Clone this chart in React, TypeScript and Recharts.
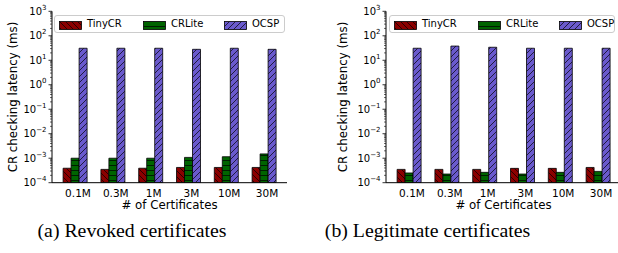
import { BarChart, Bar, XAxis, YAxis, Legend } from 'recharts';

const categories = ['0.1M', '0.3M', '1M', '3M', '10M', '30M'];

// (a) revoked certificates, latency in ms
const revokedTinyCR = [3.9e-4, 3.5e-4, 3.9e-4, 4.2e-4, 4.2e-4, 4.2e-4];
const revokedCRLite = [1.0e-3, 1.0e-3, 1.0e-3, 1.08e-3, 1.15e-3, 1.5e-3];
const revokedOCSP = [31, 31, 31, 28, 31, 28];

// (b) legitimate certificates
const legitTinyCR = [3.5e-4, 3.5e-4, 3.5e-4, 3.85e-4, 3.85e-4, 4.2e-4];
const legitCRLite = [2.5e-4, 2.26e-4, 2.65e-4, 2.26e-4, 2.65e-4, 2.9e-4];
const legitOCSP = [31, 38, 34, 31, 31, 31];

const majorTicks = [1e-4, 1e-3, 1e-2, 1e-1, 1e0, 1e1, 1e2, 1e3];
const minorSteps = [2, 3, 4, 5, 6, 7, 8, 9];
const allTicks = majorTicks.concat(
  majorTicks.slice(0, -1).flatMap(m => minorSteps.map(s => m * s))
);

const SANS = '"DejaVu Sans", sans-serif';

const toRows = (a: number[], b: number[], c: number[]) =>
  categories.map((cat, i) => ({ cat, tiny: a[i], crlite: b[i], ocsp: c[i] }));

const YTick = (props: any) => {
  const { x, y, payload } = props;
  const lg = Math.log10(payload.value);
  const major = Math.abs(lg - Math.round(lg)) < 1e-6;
  const e = Math.round(lg);
  return (
    <g>
      <line x1={x - (major ? 3.5 : 2)} x2={x} y1={y} y2={y} stroke="#000" strokeWidth={major ? 0.8 : 0.6} />
      {major && (
        <text x={x - 5.5} y={y + 3.5} textAnchor="end" fontSize={10} fontFamily={SANS} fill="#000">
          10
          <tspan dy={-5} fontSize={7}>{e < 0 ? `\u2212${-e}` : e}</tspan>
        </text>
      )}
    </g>
  );
};

const XTick = (props: any) => {
  const { x, y, payload } = props;
  return (
    <text x={x + 3} y={y} dy="0.78em" textAnchor="middle" fontSize={10.5} fontFamily={SANS} fill="#000">
      {payload.value}
    </text>
  );
};

const Hatches = ({ id }: { id: string }) => (
  <defs>
    <pattern id={`${id}-tiny`} patternUnits="userSpaceOnUse" width={6} height={6}>
      <rect width={6} height={6} fill="#8b0000" />
      <path d="M0,0 L6,6 M-1,5 L1,7 M5,-1 L7,1" stroke="#000" strokeWidth={0.7} />
    </pattern>
    <pattern id={`${id}-crlite`} patternUnits="userSpaceOnUse" width={10} height={5}>
      <rect width={10} height={5} fill="#006400" />
      <path d="M0,0.5 H10" stroke="#000" strokeWidth={0.7} />
    </pattern>
    <pattern id={`${id}-ocsp`} patternUnits="userSpaceOnUse" width={6} height={6}>
      <rect width={6} height={6} fill="#6a5acd" />
      <path d="M0,6 L6,0 M-1,1 L1,-1 M5,7 L7,5" stroke="#000" strokeWidth={0.7} />
    </pattern>
  </defs>
);

const legendItems = [
  { key: 'tiny', name: 'TinyCR', at: 4 },
  { key: 'crlite', name: 'CRLite', at: 88 },
  { key: 'ocsp', name: 'OCSP', at: 169 },
];

const makeLegend = (id: string, width: number) => () => (
  <div
    style={{
      position: 'relative', width, height: 18, boxSizing: 'border-box',
      border: '1px solid #cccccc', borderRadius: 3, background: 'rgba(255,255,255,0.85)',
      fontFamily: SANS, fontSize: 10, color: '#000',
    }}
  >
    {legendItems.map(it => (
      <div key={it.key}>
        <svg width={23} height={9} style={{ position: 'absolute', left: it.at, top: 4.5 }}>
          <rect x={0.5} y={0.5} width={22} height={8} fill={`url(#${id}-${it.key})`} stroke="#000" strokeWidth={0.8} />
        </svg>
        <span style={{ position: 'absolute', left: it.at + 28, top: 2, lineHeight: '12px' }}>{it.name}</span>
      </div>
    ))}
  </div>
);

type PanelProps = {
  id: string;
  rows: any[];
  left: number;
  width: number;
  marginLeft: number;
  marginRight: number;
  legendLeft: number;
  legendWidth: number;
  yLabelX: number;
  xLabelX: number;
};

const Panel = (p: PanelProps) => (
  <div style={{ position: 'absolute', left: p.left, top: 0 }}>
    <BarChart
      width={p.width}
      height={215}
      data={p.rows}
      margin={{ top: 11.3, left: p.marginLeft, right: p.marginRight, bottom: 2.3 }}
      barGap={0}
      barSize={8}
    >
      <Hatches id={p.id} />
      <XAxis
        dataKey="cat"
        height={30}
        padding={{ left: 4.1, right: 4.1 }}
        tickLine={false}
        tickSize={0}
        tickMargin={6}
        interval={0}
        tick={<XTick />}
        axisLine={{ stroke: '#000', strokeWidth: 1 }}
        label={{
          content: () => (
            <text x={p.xLabelX} y={209} textAnchor="middle" fontSize={11.8} fontFamily={SANS} fill="#000">
              # of Certificates
            </text>
          ),
        }}
      />
      <XAxis xAxisId="top" dataKey="cat" orientation="top" height={0} tick={false} tickLine={false}
        axisLine={{ stroke: '#000', strokeWidth: 1 }} padding={{ left: 4.1, right: 4.1 }} />
      <YAxis
        type="number"
        scale="log"
        domain={[1e-4, 1e3]}
        allowDataOverflow
        ticks={allTicks}
        interval={0}
        width={40}
        tickLine={false}
        tickSize={0}
        tickMargin={0}
        tick={<YTick />}
        axisLine={{ stroke: '#000', strokeWidth: 1 }}
        label={{
          content: () => (
            <text
              x={p.yLabelX}
              y={97}
              transform={`rotate(-90 ${p.yLabelX} 97)`}
              textAnchor="middle"
              dominantBaseline="central"
              fontSize={11.8}
              fontFamily={SANS}
              fill="#000"
            >
              CR checking latency (ms)
            </text>
          ),
        }}
      />
      <YAxis yAxisId="right" orientation="right" type="number" scale="log" domain={[1e-4, 1e3]}
        allowDataOverflow width={0} tick={false} tickLine={false} axisLine={{ stroke: '#000', strokeWidth: 1 }} />
      <Legend
        layout="horizontal"
        verticalAlign="middle"
        align="center"
        content={makeLegend(p.id, p.legendWidth)}
        wrapperStyle={{ left: p.legendLeft, top: 15, width: p.legendWidth, height: 18 }}
      />
      <Bar dataKey="tiny" name="TinyCR" fill={`url(#${p.id}-tiny)`} stroke="#000" strokeWidth={0.8} isAnimationActive={false} />
      <Bar dataKey="crlite" name="CRLite" fill={`url(#${p.id}-crlite)`} stroke="#000" strokeWidth={0.8} isAnimationActive={false} />
      <Bar dataKey="ocsp" name="OCSP" fill={`url(#${p.id}-ocsp)`} stroke="#000" strokeWidth={0.8} isAnimationActive={false} />
    </BarChart>
  </div>
);

export default function App() {
  return (
    <div style={{ position: 'absolute', left: 0, top: 0, width: 618, height: 253, overflow: 'hidden', background: '#fff' }}>
      <Panel
        id="rev"
        rows={toRows(revokedTinyCR, revokedCRLite, revokedOCSP)}
        left={0}
        width={300}
        marginLeft={12}
        marginRight={13}
        legendLeft={54}
        legendWidth={231}
        yLabelX={13}
        xLabelX={169.5}
      />
      <Panel
        id="leg"
        rows={toRows(legitTinyCR, legitCRLite, legitOCSP)}
        left={310}
        width={320}
        marginLeft={36}
        marginRight={9}
        legendLeft={79}
        legendWidth={226}
        yLabelX={33}
        xLabelX={193.5}
      />
      <svg width={618} height={253} style={{ position: 'absolute', left: 0, top: 0, pointerEvents: 'none' }}>
        <text x={132} y={237} textAnchor="middle" fontSize={19.8} fontFamily='"Liberation Serif", serif' fill="#000">
          (a) Revoked certificates
        </text>
        <text x={427.5} y={237} textAnchor="middle" fontSize={19.8} fontFamily='"Liberation Serif", serif' fill="#000">
          (b) Legitimate certificates
        </text>
      </svg>
    </div>
  );
}
